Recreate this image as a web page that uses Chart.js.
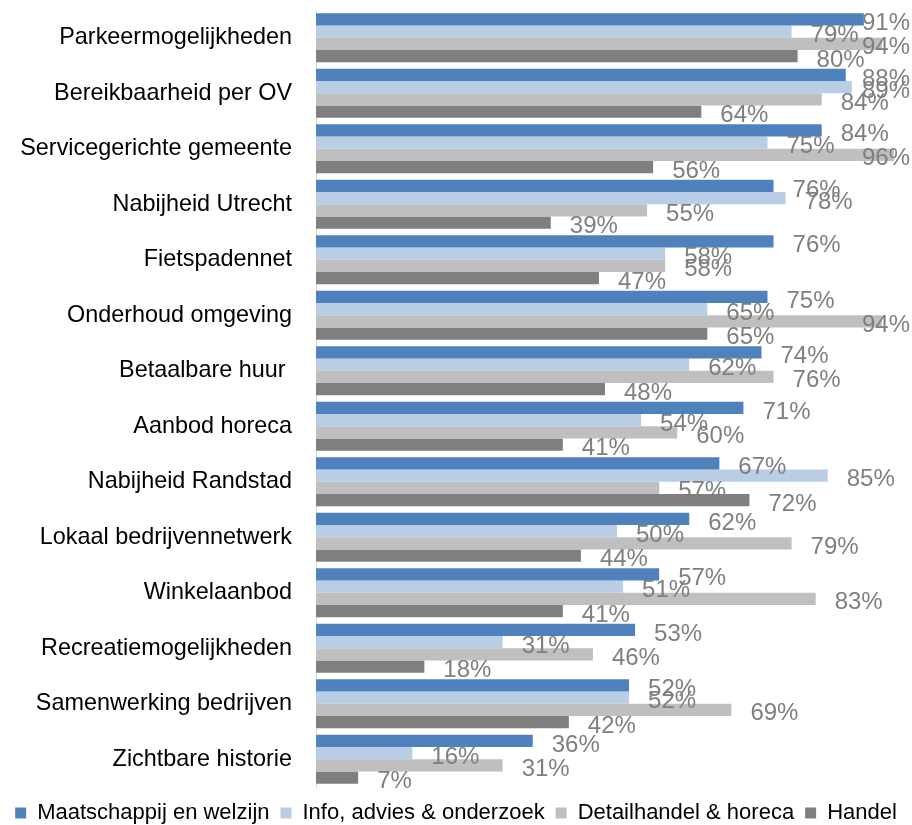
<!DOCTYPE html>
<html>
<head>
<meta charset="utf-8">
<script src="https://cdn.jsdelivr.net/npm/chart.js@4/dist/chart.umd.min.js"></script>
<style>
  html, body { margin: 0; padding: 0; background: #fff; overflow: hidden; }
  #wrap { position: relative; width: 912px; height: 825px; }
</style>
</head>
<body>
<div id="wrap"><canvas id="c"></canvas></div>
<script>
const categories = [
  "Parkeermogelijkheden",
  "Bereikbaarheid per OV",
  "Servicegerichte gemeente",
  "Nabijheid Utrecht",
  "Fietspadennet",
  "Onderhoud omgeving",
  "Betaalbare huur ",
  "Aanbod horeca",
  "Nabijheid Randstad",
  "Lokaal bedrijvennetwerk",
  "Winkelaanbod",
  "Recreatiemogelijkheden",
  "Samenwerking bedrijven",
  "Zichtbare historie"
];
const seriesNames = ["Maatschappij en welzijn", "Info, advies & onderzoek", "Detailhandel & horeca", "Handel"];
const maatschappij = [91, 88, 84, 76, 76, 75, 74, 71, 67, 62, 57, 53, 52, 36];
const infoAdvies   = [79, 89, 75, 78, 58, 65, 62, 54, 85, 50, 51, 31, 52, 16];
const detailhandel = [94, 84, 96, 55, 58, 94, 76, 60, 57, 79, 83, 46, 69, 31];
const handel       = [80, 64, 56, 39, 47, 65, 48, 41, 72, 44, 41, 18, 42, 7];
const colors = ["#4f81bd", "#b9cde5", "#bfbfbf", "#7f7f7f"];

const FONT = "'Liberation Sans', Arial, sans-serif";

const labelPlugin = {
  id: 'valueLabels',
  afterDatasetsDraw(chart) {
    const ctx = chart.ctx;
    ctx.save();
    ctx.font = "24px " + FONT;
    ctx.fillStyle = "#7f7f7f";
    ctx.textBaseline = "middle";
    ctx.textAlign = "left";
    chart.data.datasets.forEach((ds, di) => {
      const meta = chart.getDatasetMeta(di);
      meta.data.forEach((bar, i) => {
        const txt = ds.data[i] + "%";
        const w = ctx.measureText(txt).width;
        let x = bar.x + 19;
        if (x + w > chart.width - 2) x = chart.width - 2 - w;
        ctx.fillText(txt, x, bar.y + 4);
      });
    });
    ctx.restore();
  }
};

const legendHeightPlugin = {
  id: 'legendHeight',
  beforeInit(chart) {
    const lg = chart.legend;
    if (!lg) return;
    const orig = lg.fit;
    lg.fit = function () {
      orig.call(this);
      this.height = 38;
    };
  },
  afterLayout(chart) {
    const lg = chart.legend;
    if (!lg) return;
    lg.top += 4;
    lg.bottom += 4;
  }
};

const datasets = [maatschappij, infoAdvies, detailhandel, handel].map((d, i) => ({
  label: seriesNames[i],
  data: d,
  backgroundColor: colors[i],
  borderWidth: 0,
  barPercentage: 1.0,
  categoryPercentage: 0.88
}));

new Chart(document.getElementById('c'), {
  type: 'bar',
  data: { labels: categories, datasets },
  options: {
    indexAxis: 'y',
    responsive: true,
    maintainAspectRatio: false,
    animation: false,
    layout: { padding: { top: 10, right: 0, left: 0, bottom: 0 } },
    scales: {
      x: { display: false, min: 0, max: 99 },
      y: {
        grid: { display: false, drawTicks: false },
        border: { display: true, color: "#d9d9d9", width: 1 },
        ticks: { color: "#000", font: { family: FONT, size: 23.4 }, padding: 24 },
        afterFit(scale) {
          scale.width = 316;
          scale.paddingTop = 0;
          scale.paddingBottom = 0;
        }
      }
    },
    plugins: {
      legend: {
        position: 'bottom',
        labels: {
          color: "#000",
          font: { family: FONT, size: 22 },
          boxWidth: 11,
          boxHeight: 11,
          padding: 11
        }
      },
      tooltip: { enabled: false }
    }
  },
  plugins: [labelPlugin, legendHeightPlugin]
});
</script>
</body>
</html>
